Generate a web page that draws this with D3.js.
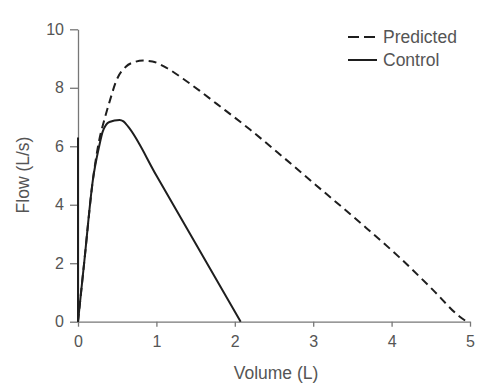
<!DOCTYPE html>
<html><head><meta charset="utf-8">
<script src="https://cdn.jsdelivr.net/npm/d3@7"></script>
<style>body{margin:0;background:#fff}svg{display:block}text{font-family:"Liberation Sans",Arial,sans-serif}</style>
</head><body><svg id="c" width="500" height="390"></svg>
<script>
const xTicks = [0,1,2,3,4,5];
const yTicks = [0,2,4,6,8,10];
const predictedVol  = [0,0.08,0.19,0.27,0.33,0.40,0.49,0.61,0.72,0.83,0.95,1.13,1.34,1.56,1.77,2.19,2.62,3.04,3.68,4.10,4.53,4.87,4.96];
const predictedFlow = [0,2.05,4.85,6.2,6.85,7.5,8.25,8.72,8.88,8.93,8.9,8.68,8.31,7.88,7.45,6.58,5.62,4.66,3.2,2.2,1.08,0.17,0];
const controlVol  = [0,0.08,0.19,0.27,0.315,0.40,0.53,0.58,0.64,1.0,2.075];
const controlFlow = [0,2.05,4.85,6.0,6.5,6.83,6.9,6.85,6.67,5.0,0];
const controlRiseVol  = [0,0];
const controlRiseFlow = [0,6.3];
const legendLabels = ["Predicted","Control"];

const svg = d3.select("#c");
const x = d3.scaleLinear().domain([0,5]).range([78,470]);
const y = d3.scaleLinear().domain([0,10]).range([321.7,29.3]);
const gray = "#777", txt = "#555", ink = "#1e1e1e";
const FONT = "'Liberation Sans',Arial,sans-serif";

const xa = svg.append("g").attr("transform","translate(0,321.7)")
  .call(d3.axisBottom(x).tickValues(xTicks).tickFormat(d3.format("d")).tickSize(5).tickPadding(9).tickSizeOuter(0));
const ya = svg.append("g").attr("transform","translate(78,0)")
  .call(d3.axisLeft(y).tickValues(yTicks).tickFormat(d3.format("d")).tickSize(8).tickPadding(6).tickSizeOuter(0));
[xa,ya].forEach(a=>{
  a.select("path.domain").attr("stroke",gray).attr("stroke-width",1.3);
  a.selectAll(".tick line").attr("stroke",gray).attr("stroke-width",1.3);
  a.selectAll("text").attr("fill",txt).style("font-size","16px").style("font-family",FONT);
});

const lineFn = d3.line().x(d=>x(d[0])).y(d=>y(d[1])).curve(d3.curveMonotoneX);
svg.append("path").datum(controlRiseVol.map((v,i)=>[v,controlRiseFlow[i]]))
  .attr("d",d3.line().x(d=>x(d[0])).y(d=>y(d[1]))).attr("fill","none").attr("stroke",ink).attr("stroke-width",2);
svg.append("path").datum(predictedVol.map((v,i)=>[v,predictedFlow[i]]))
  .attr("d",lineFn).attr("fill","none").attr("stroke",ink).attr("stroke-width",2).attr("stroke-dasharray","8,5");
svg.append("path").datum(controlVol.map((v,i)=>[v,controlFlow[i]]))
  .attr("d",lineFn).attr("fill","none").attr("stroke",ink).attr("stroke-width",2);

svg.append("text").attr("x",276).attr("y",379).attr("text-anchor","middle").attr("fill",txt).style("font-size","17.5px").text("Volume (L)");
svg.append("text").attr("transform","translate(29,175) rotate(-90)").attr("text-anchor","middle").attr("fill",txt).style("font-size","17.5px").text("Flow (L/s)");

const lg = svg.append("g");
legendLabels.forEach((t,i)=>{
  const yy = 37 + i*23;
  lg.append("line").attr("x1",348).attr("x2",377).attr("y1",yy).attr("y2",yy).attr("stroke",ink).attr("stroke-width",2)
    .attr("stroke-dasharray", i===0 ? "11,5" : null);
  lg.append("text").attr("x",383).attr("y",yy+6).attr("fill",txt).style("font-size","17.5px").text(t);
});
</script></body></html>
